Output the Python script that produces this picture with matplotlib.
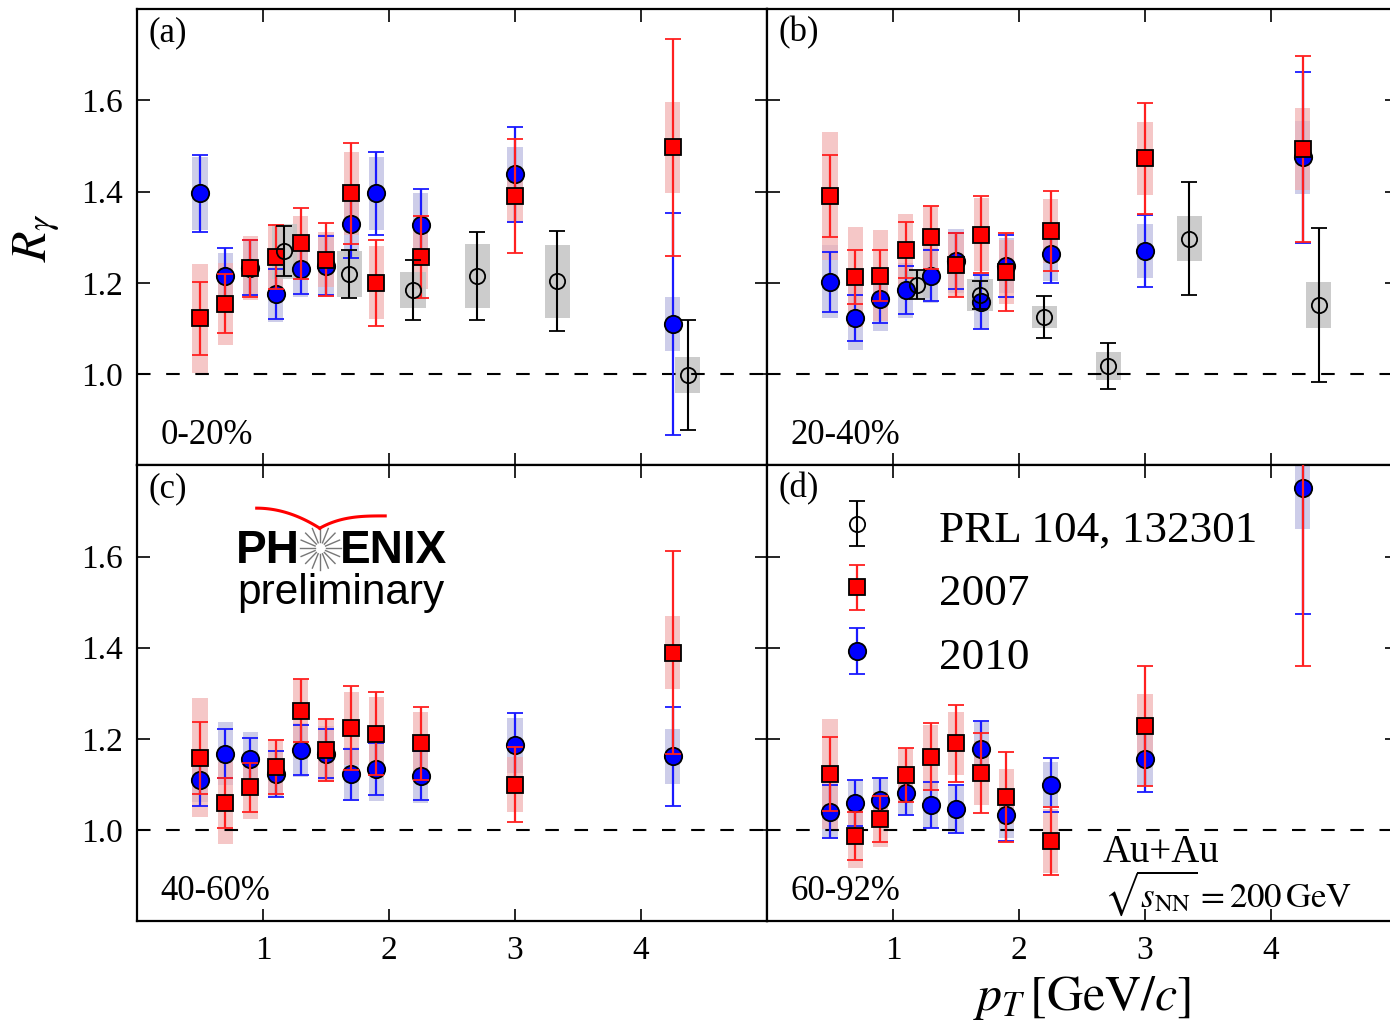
import numpy as np
import matplotlib.pyplot as plt

plt.rcParams['font.family'] = ['Liberation Serif', 'DejaVu Serif']
plt.rcParams['mathtext.fontset'] = 'stix'

# pT bin centres (GeV/c)
pt = [0.5, 0.7, 0.9, 1.1, 1.3, 1.5, 1.7, 1.9, 2.25, 3.0, 4.25]
pt_prl_a = [1.17, 1.685, 2.19, 2.70, 3.336, 4.37]
pt_prl_b = [1.19, 1.69, 2.20, 2.71, 3.35, 4.38]

# (a) 0-20%
y07_a = [1.122, 1.154, 1.232, 1.256, 1.287, 1.251, 1.396, 1.20, 1.256, 1.391, 1.497]
e07_a = [0.08, 0.065, 0.062, 0.07, 0.078, 0.08, 0.11, 0.095, 0.09, 0.125, 0.238]
s07_a = [0.12, 0.09, 0.07, 0.07, 0.06, 0.06, 0.09, 0.08, 0.07, 0.06, 0.10]
y10_a = [1.396, 1.216, 1.233, 1.175, 1.23, 1.238, 1.329, 1.396, 1.326, 1.438, 1.11]
e10_a = [0.084, 0.06, 0.06, 0.055, 0.055, 0.065, 0.075, 0.092, 0.08, 0.104, 0.244]
s10_a = [0.08, 0.05, 0.06, 0.06, 0.06, 0.07, 0.07, 0.08, 0.07, 0.06, 0.06]
yprl_a = [1.269, 1.219, 1.184, 1.215, 1.204, 0.998]
eprl_a = [0.055, 0.052, 0.066, 0.097, 0.11, 0.12]
sprl_a = [0.06, 0.05, 0.04, 0.07, 0.08, 0.04]

# (b) 20-40%
y07_b = [1.391, 1.213, 1.216, 1.272, 1.30, 1.24, 1.306, 1.224, 1.313, 1.473, 1.493]
e07_b = [0.09, 0.06, 0.056, 0.062, 0.069, 0.07, 0.085, 0.086, 0.088, 0.121, 0.204]
s07_b = [0.14, 0.11, 0.10, 0.08, 0.07, 0.07, 0.08, 0.07, 0.07, 0.08, 0.09]
y10_b = [1.202, 1.123, 1.164, 1.184, 1.216, 1.248, 1.158, 1.238, 1.264, 1.27, 1.475]
e10_b = [0.065, 0.05, 0.052, 0.052, 0.055, 0.061, 0.06, 0.068, 0.064, 0.079, 0.188]
s10_b = [0.08, 0.07, 0.07, 0.06, 0.06, 0.07, 0.06, 0.06, 0.06, 0.06, 0.08]
yprl_b = [1.196, 1.174, 1.125, 1.018, 1.297, 1.152]
eprl_b = [0.032, 0.031, 0.046, 0.051, 0.124, 0.169]
sprl_b = [0.03, 0.035, 0.025, 0.03, 0.05, 0.05]

# (c) 40-60%
y07_c = [1.159, 1.059, 1.094, 1.139, 1.262, 1.176, 1.223, 1.211, 1.19, 1.10, 1.389]
e07_c = [0.079, 0.055, 0.054, 0.059, 0.069, 0.068, 0.092, 0.091, 0.079, 0.083, 0.222]
s07_c = [0.13, 0.09, 0.07, 0.06, 0.07, 0.07, 0.08, 0.08, 0.07, 0.06, 0.08]
y10_c = [1.111, 1.168, 1.155, 1.123, 1.176, 1.168, 1.123, 1.134, 1.119, 1.186, 1.162]
e10_c = [0.058, 0.053, 0.046, 0.05, 0.055, 0.053, 0.056, 0.058, 0.054, 0.07, 0.108]
s10_c = [0.05, 0.07, 0.06, 0.05, 0.06, 0.06, 0.06, 0.07, 0.06, 0.06, 0.06]

# (d) 60-92%
y07_d = [1.123, 0.987, 1.024, 1.121, 1.161, 1.19, 1.126, 1.073, 0.976, 1.229, 1.9]
e07_d = [0.082, 0.052, 0.05, 0.06, 0.073, 0.085, 0.088, 0.098, 0.075, 0.132, 0.54]
s07_d = [0.12, 0.07, 0.06, 0.06, 0.07, 0.07, 0.07, 0.06, 0.07, 0.07, 0.08]
y10_d = [1.04, 1.059, 1.067, 1.082, 1.055, 1.046, 1.177, 1.033, 1.099, 1.156, 1.75]
e10_d = [0.058, 0.05, 0.047, 0.049, 0.05, 0.053, 0.063, 0.056, 0.06, 0.072, 0.277]
s10_d = [0.06, 0.05, 0.05, 0.05, 0.05, 0.05, 0.06, 0.05, 0.05, 0.06, 0.09]

centr = ['0-20%', '20-40%', '40-60%', '60-92%']
tags = ['(a)', '(b)', '(c)', '(d)']


def draw(ax, y10, e10, s10, y07, e07, s07, xp=None, yp=None, ep=None, sp=None):
    y10, s10, y07, s07 = map(np.array, (y10, s10, y07, s07))
    ax.bar(pt, 2*s10, bottom=y10-s10, width=0.12, color='#b8b8e0', alpha=0.7, zorder=1)
    ax.bar(pt, 2*s07, bottom=y07-s07, width=0.12, color='#f2b0b0', alpha=0.7, zorder=1)
    h = {}
    if xp is not None:
        yp, sp = np.array(yp), np.array(sp)
        ax.bar(xp, 2*sp, bottom=yp-sp, width=0.2, color='#c4c4c4', alpha=0.85, zorder=1)
        h['prl'] = ax.errorbar(xp, yp, yerr=ep, fmt='o', ms=11, mfc='none', mec='k',
                               mew=1.3, ecolor='k', elinewidth=1.5, capsize=6,
                               capthick=1.5, zorder=5)
    h['10'] = ax.errorbar(pt, y10, yerr=e10, fmt='o', ms=12.5, mfc='#0000ff', mec='k',
                          mew=1.3, ecolor='#1a1aff', elinewidth=1.6, capsize=6,
                          capthick=1.6, zorder=3)
    h['07'] = ax.errorbar(pt, y07, yerr=e07, fmt='s', ms=12, mfc='#ff0000', mec='k',
                          mew=1.3, ecolor='#ff2020', elinewidth=1.6, capsize=6,
                          capthick=1.6, zorder=4)
    ax.axhline(1.0, color='k', lw=1.5, ls=(0, (6.5, 7.5)), zorder=2)
    return h


fig = plt.figure(figsize=(13.9, 10.26), dpi=100)
L, W = 137/1390, 630/1390
H = 0.4445
axs = [fig.add_axes([L, 0.5465, W, H]), fig.add_axes([L + W, 0.5465, W, H]),
       fig.add_axes([L, 0.102, W, H]), fig.add_axes([L + W, 0.102, W, H])]

ha = draw(axs[0], y10_a, e10_a, s10_a, y07_a, e07_a, s07_a, pt_prl_a, yprl_a, eprl_a, sprl_a)
draw(axs[1], y10_b, e10_b, s10_b, y07_b, e07_b, s07_b, pt_prl_b, yprl_b, eprl_b, sprl_b)
draw(axs[2], y10_c, e10_c, s10_c, y07_c, e07_c, s07_c)
draw(axs[3], y10_d, e10_d, s10_d, y07_d, e07_d, s07_d)

for i, ax in enumerate(axs):
    ax.set_xlim(0, 5)
    ax.set_ylim(0.8, 1.8)
    ax.set_xticks([1, 2, 3, 4])
    ax.set_yticks([1.0, 1.2, 1.4, 1.6])
    ax.set_yticklabels(['1.0', '1.2', '1.4', '1.6'])
    ax.tick_params(direction='in', top=True, right=True, length=9, width=1.2,
                   labelsize=24, pad=10,
                   labelleft=(i % 2 == 0), labelbottom=(i >= 2))
    for s in ax.spines.values():
        s.set_linewidth(1.6)
    ax.text(0.018, 0.985, tags[i], transform=ax.transAxes, fontsize=25, va='top', ha='left')
    ax.text(0.037, 0.066, centr[i], transform=ax.transAxes, fontsize=25, va='center', ha='left')

axs[0].set_ylabel(r'$R_\gamma$', fontsize=36, labelpad=14)
axs[3].set_xlabel(r'$p_T\,[\mathrm{GeV}/c]$', fontsize=36, labelpad=6)

# legend in (d)
leg = axs[3].legend([ha['prl'], ha['07'], ha['10']], ['PRL 104, 132301', '2007', '2010'],
                    loc='upper left', bbox_to_anchor=(0.043, 1.0), frameon=False,
                    fontsize=32.5, handlelength=1.0, handleheight=1.0,
                    handletextpad=1.32, labelspacing=0.42)

axs[3].text(0.533, 0.152, 'Au+Au', transform=axs[3].transAxes, fontsize=28,
            va='center', ha='left')
axs[3].text(0.535, 0.062, r'$\sqrt{s_{\mathrm{NN}}} = 200\,\mathrm{GeV}$',
            transform=axs[3].transAxes, fontsize=25, va='center', ha='left')

# PHENIX preliminary logo in (c)
axc = axs[2]
axc.text(0.157, 0.785, 'PH', transform=axc.transAxes, fontsize=33, fontweight='bold',
         family='Liberation Sans', va='baseline', ha='left')
axc.text(0.322, 0.785, 'ENIX', transform=axc.transAxes, fontsize=33, fontweight='bold',
         family='Liberation Sans', va='baseline', ha='left')
axc.text(0.324, 0.695, 'preliminary', transform=axc.transAxes, fontsize=30.5,
         family='Liberation Sans', va='baseline', ha='center')
ang = np.linspace(0, 2*np.pi, 17)[:-1]
cx, cy = 0.291, 0.818
for a in ang:
    axc.plot([cx + 0.009*np.cos(a), cx + 0.033*np.cos(a)],
             [cy + 0.013*np.sin(a), cy + 0.047*np.sin(a)],
             color='#777777', lw=1.0, transform=axc.transAxes)
t1 = np.linspace(0, 1, 30)
axc.plot(0.19 + 0.10*t1, 0.906 - 0.044*t1**2, color='red', lw=2.2, transform=axc.transAxes)
axc.plot(0.29 + 0.104*t1, 0.862 + 0.027*(1 - (1 - t1)**3), color='red', lw=2.2,
         transform=axc.transAxes)

fig.savefig('out.png', dpi=100)
plt.close()
